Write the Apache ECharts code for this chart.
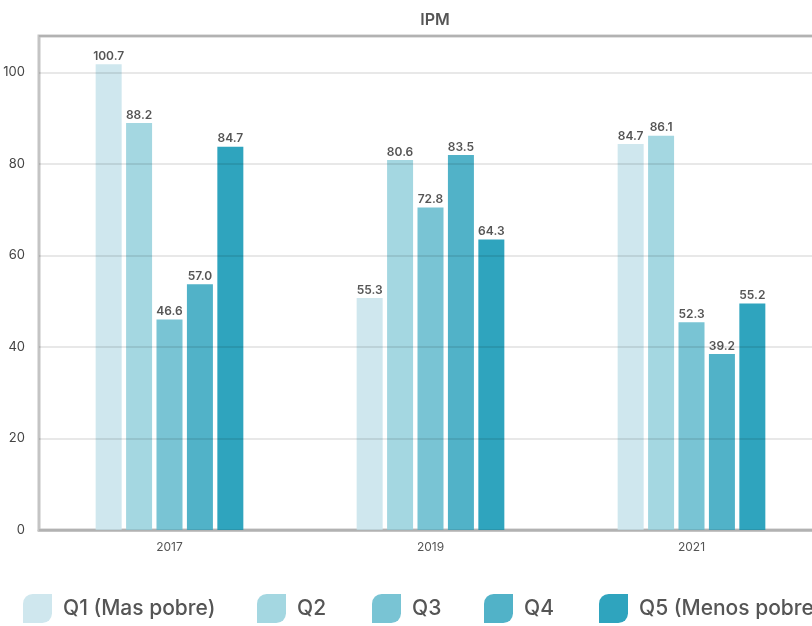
<!DOCTYPE html>
<html>
<head>
<meta charset="utf-8">
<script src="https://cdn.jsdelivr.net/npm/echarts@6/dist/echarts.min.js"></script>
<style>html,body{margin:0;padding:0;background:#fff}#c{width:812px;height:626px}</style>
</head>
<body>
<div id="c"></div>
<script>
const categories = ['2017', '2019', '2021'];
const seriesNames = ['Q1 (Mas pobre)', 'Q2', 'Q3', 'Q4', 'Q5 (Menos pobre)'];
// bar heights as drawn
const q1 = [101.8, 50.7, 84.4];
const q2 = [89.0, 80.9, 86.2];
const q3 = [46.0, 70.5, 45.4];
const q4 = [53.7, 82.0, 38.5];
const q5 = [83.8, 63.5, 49.5];
// printed labels
const q1Labels = ['100.7', '55.3', '84.7'];
const q2Labels = ['88.2', '80.6', '86.1'];
const q3Labels = ['46.6', '72.8', '52.3'];
const q4Labels = ['57.0', '83.5', '39.2'];
const q5Labels = ['84.7', '64.3', '55.2'];
const yTicks = [0, 20, 40, 60, 80, 100];

const values = [q1, q2, q3, q4, q5];
const labels = [q1Labels, q2Labels, q3Labels, q4Labels, q5Labels];
const colors = ['#cfe7ee', '#a4d7e1', '#79c4d4', '#51b2c8', '#2fa4be'];
const legendLeft = [23, 257, 372, 484, 599];
const leaf = 'path://M10,0 H30 V20 A10,10 0 0 1 20,30 H0 V10 A10,10 0 0 1 10,0 Z';
const font = 'Inter, "Open Sans", sans-serif';

const chart = echarts.init(document.getElementById('c'), null, {renderer: 'canvas'});
chart.setOption({
  animation: false,
  backgroundColor: '#fff',
  title: {
    text: 'IPM', left: 430, top: 7, textAlign: 'center',
    textStyle: {fontFamily: font, fontSize: 16, fontWeight: 600, color: '#555'}
  },
  legend: seriesNames.map((n, i) => ({
    data: [n], left: legendLeft[i], top: 594, padding: 0,
    itemWidth: 29, itemHeight: 30, icon: leaf,
    textStyle: {fontFamily: font, fontSize: 21, fontWeight: 500, color: '#555', padding: [0, 0, 0, 6]}
  })),
  grid: {
    left: 39, width: 783, top: 36, bottom: 96, show: true,
    containLabel: false, outerBoundsMode: 'none',
    borderColor: '#c4c4c4', borderWidth: 3, backgroundColor: '#fff'
  },
  xAxis: {
    type: 'category', data: categories,
    axisLine: {show: true, lineStyle: {color: '#c4c4c4', width: 3}},
    axisTick: {show: false},
    axisLabel: {margin: 11, fontFamily: font, fontSize: 12, color: '#555'}
  },
  yAxis: {
    type: 'value', min: 0, max: 108, interval: 20, z: 3,
    axisLine: {show: false}, axisTick: {show: false},
    axisLabel: {
      margin: 14, fontFamily: font, fontSize: 13, color: '#444',
      formatter: v => yTicks.includes(v) ? String(v) : ''
    },
    splitLine: {lineStyle: {color: 'rgba(0,0,0,0.09)', width: 2}}
  },
  series: seriesNames.map((n, i) => ({
    name: n, type: 'bar', data: values[i],
    barWidth: 26, barGap: '17%',
    itemStyle: {color: colors[i]},
    label: {
      show: true, position: 'top', distance: 2,
      fontFamily: font, fontSize: 12, fontWeight: 600, color: '#555',
      formatter: p => labels[i][p.dataIndex]
    }
  }))
});
</script>
</body>
</html>
